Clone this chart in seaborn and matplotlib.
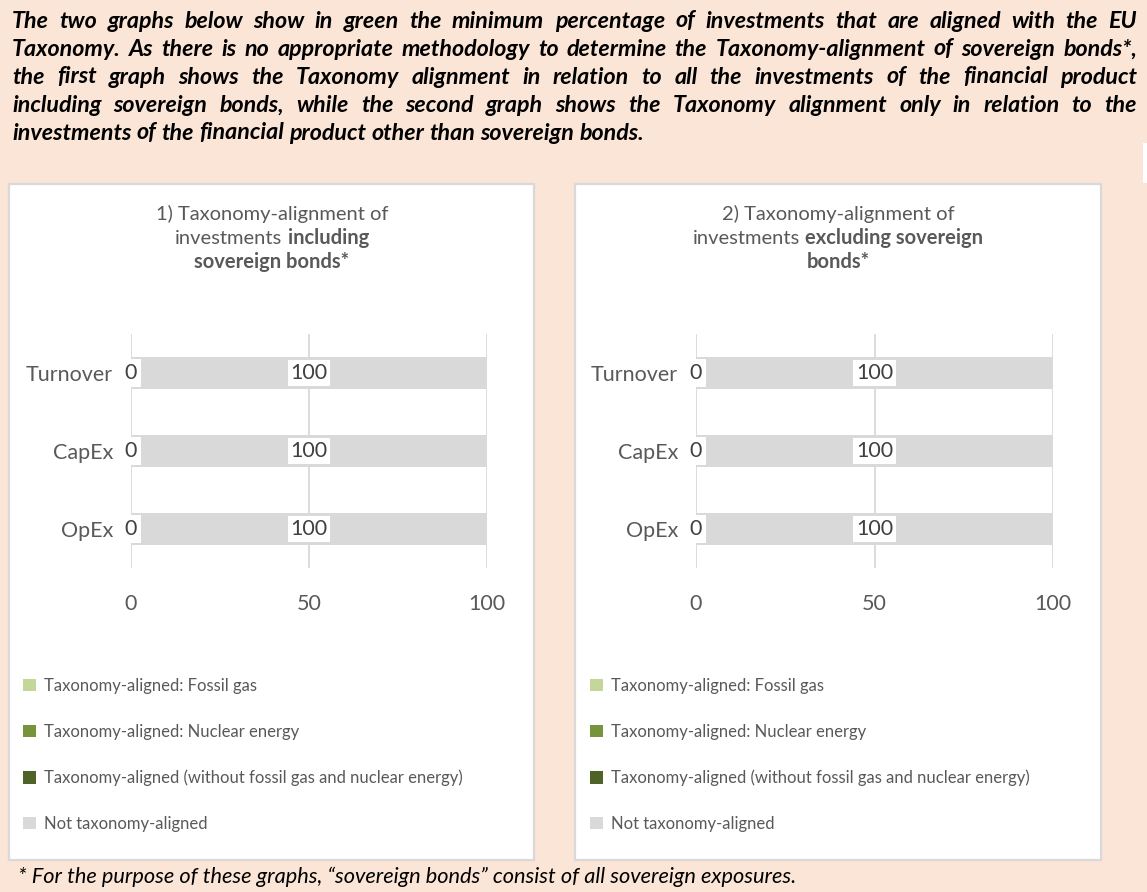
import matplotlib
matplotlib.use("Agg")
import matplotlib.pyplot as plt
from matplotlib.patches import Rectangle
import seaborn as sns
import numpy as np
import pandas as pd

# ---------------- data ----------------
categories = ["Turnover", "CapEx", "OpEx"]

incl_fossil_gas = [0, 0, 0]
incl_nuclear = [0, 0, 0]
incl_aligned_other = [0, 0, 0]
incl_not_aligned = [100, 100, 100]

excl_fossil_gas = [0, 0, 0]
excl_nuclear = [0, 0, 0]
excl_aligned_other = [0, 0, 0]
excl_not_aligned = [100, 100, 100]

x_ticks = [0, 50, 100]

series_labels = [
    "Taxonomy-aligned: Fossil gas",
    "Taxonomy-aligned: Nuclear energy",
    "Taxonomy-aligned (without fossil gas and nuclear energy)",
    "Not taxonomy-aligned",
]
series_colors = ["#C4D79B", "#77933C", "#4F6228", "#D9D9D9"]

title_1 = [[("1) Taxonomy-alignment of", "normal")],
           [("investments", "normal"), ("including", "bold")],
           [("sovereign bonds*", "bold")]]
title_2 = [[("2) Taxonomy-alignment of", "normal")],
           [("investments", "normal"), ("excluding sovereign", "bold")],
           [("bonds*", "bold")]]

intro_lines = [
    "The two graphs below show in green the minimum percentage of investments that are aligned with the EU",
    "Taxonomy. As there is no appropriate methodology to determine the Taxonomy-alignment of sovereign bonds*,",
    "the first graph shows the Taxonomy alignment in relation to all the investments of the financial product",
    "including sovereign bonds, while the second graph shows the Taxonomy alignment only in relation to the",
    "investments of the financial product other than sovereign bonds.",
]
footnote = "* For the purpose of these graphs, \u201csovereign bonds\u201d consist of all sovereign exposures."

# ---------------- style ----------------
sns.set_theme(style="white")
plt.rcParams["font.family"] = ["Lato", "DejaVu Sans"]

BG = "#FBE5D6"
PANEL_EDGE = "#D9D9D9"
TXT = "#595959"
W, H = 1147, 892

fig = plt.figure(figsize=(W / 100, H / 100), dpi=100)
fig.patch.set_facecolor(BG)
renderer = fig.canvas.get_renderer()


def fx(x):
    return x / W


def fy(y):
    return 1 - y / H


def text_width(s, **kw):
    t = fig.text(0, 0, s, **kw)
    w = t.get_window_extent(renderer).width
    t.remove()
    return w


# ---------------- intro paragraph (justified) ----------------
para_kw = dict(fontweight="bold", fontstyle="italic", color="black", va="center", ha="left")
base = 12
nat = text_width(intro_lines[-1], fontsize=base, **para_kw)
para_size = base * 630 / nat
para_kw["fontsize"] = para_size
space_w = text_width("a a", **para_kw) - text_width("aa", **para_kw)
x0, x1 = 12, 1137
para_ys = [21, 49, 77, 105, 133]
for i, (line, y) in enumerate(zip(intro_lines, para_ys)):
    words = line.split(" ")
    widths = [text_width(w, **para_kw) for w in words]
    last = i == len(intro_lines) - 1
    gap = space_w if last else (x1 - x0 - sum(widths)) / (len(words) - 1)
    x = x0
    for w, wd in zip(words, widths):
        fig.text(fx(x), fy(y), w, **para_kw)
        x += wd + gap

# ---------------- footnote ----------------
foot_kw = dict(fontstyle="italic", color="black", va="center", ha="left")
nat = text_width(footnote, fontsize=base, **foot_kw)
fig.text(fx(18), fy(877), footnote, fontsize=base * 775 / nat, **foot_kw)

# ---------------- panels ----------------
panels = [(9, 534), (575, 1101)]
for (l, r) in panels:
    fig.add_artist(Rectangle((fx(l), fy(860)), (r - l) / W, (860 - 184) / H,
                             transform=fig.transFigure, facecolor="white",
                             edgecolor=PANEL_EDGE, linewidth=1.6, zorder=-1))
fig.add_artist(Rectangle((fx(1143), fy(183)), 4 / W, 40 / H, transform=fig.transFigure,
                         facecolor="white", edgecolor="none", zorder=-1))


def draw_title(lines, cx, ys, size=14.5):
    for segs, y in zip(lines, ys):
        kw_list = [dict(fontsize=size, fontweight=wt, color=TXT, va="center", ha="left") for _, wt in segs]
        widths = [text_width(s, **k) for (s, _), k in zip(segs, kw_list)]
        sp = text_width("a a", **kw_list[0]) - text_width("aa", **kw_list[0])
        total = sum(widths) + sp * (len(segs) - 1)
        x = cx - total / 2
        for (s, _), k, wd in zip(segs, kw_list, widths):
            fig.text(fx(x), fy(y), s, **k)
            x += wd + sp


def draw_chart(ax, gas, nuc, other, notal, legend_x, legend_top):
    c1 = np.array(gas, dtype=float)
    c2 = c1 + np.array(nuc)
    c3 = c2 + np.array(other)
    c4 = c3 + np.array(notal)
    df = pd.DataFrame({"category": categories, "c1": c1, "c2": c2, "c3": c3, "c4": c4})
    for col, color, label in [("c4", series_colors[3], series_labels[3]),
                              ("c3", series_colors[2], series_labels[2]),
                              ("c2", series_colors[1], series_labels[1]),
                              ("c1", series_colors[0], series_labels[0])]:
        sns.barplot(data=df, x=col, y="category", orient="h", color=color, saturation=1,
                    width=0.41, errorbar=None, ax=ax, label=label, linewidth=0)
    ax.set_xlim(0, 100)
    ax.set_ylim(2.5, -0.5)
    ax.set_xticks(x_ticks)
    ax.set_xticklabels([str(t) for t in x_ticks])
    ax.xaxis.grid(True, color="#D9D9D9", linewidth=1.3)
    ax.yaxis.grid(False)
    ax.set_axisbelow(True)
    ax.set_facecolor("none")
    for s in ax.spines.values():
        s.set_visible(False)
    ax.set_xlabel("")
    ax.set_ylabel("")
    ax.tick_params(axis="x", length=0, labelsize=15.5, labelcolor=TXT, pad=19)
    ax.tick_params(axis="y", length=0, labelsize=15.5, labelcolor=TXT, pad=13)
    for i in range(len(categories)):
        ax.text((c2[i] + c3[i]) / 2, i, f"{other[i]:g}", ha="center", va="center",
                fontsize=15.5, color="#404040", zorder=5,
                bbox=dict(boxstyle="square,pad=0.2", facecolor="white", edgecolor="none"))
        ax.text((c3[i] + c4[i]) / 2, i, f"{notal[i]:g}", ha="center", va="center",
                fontsize=15.5, color="#404040", zorder=5,
                bbox=dict(boxstyle="square,pad=0.12", facecolor="white", edgecolor="none"))
    h, l = ax.get_legend_handles_labels()
    hd = dict(zip(l, h))
    ax.legend([hd[s] for s in series_labels], series_labels, loc="upper left",
              bbox_to_anchor=(fx(legend_x), fy(legend_top)), bbox_transform=fig.transFigure,
              frameon=False, fontsize=12, labelcolor=TXT, handlelength=0.75, handleheight=0.75,
              handletextpad=0.5, labelspacing=1.79, borderpad=0, borderaxespad=0)


ax1 = fig.add_axes([fx(131), fy(568), (487 - 131) / W, (568 - 334) / H])
ax2 = fig.add_axes([fx(696), fy(568), (1053 - 696) / W, (568 - 334) / H])

draw_chart(ax1, incl_fossil_gas, incl_nuclear, incl_aligned_other, incl_not_aligned, 23, 678)
draw_chart(ax2, excl_fossil_gas, excl_nuclear, excl_aligned_other, excl_not_aligned, 590, 678)

draw_title(title_1, 272, [214, 238, 262])
draw_title(title_2, 838, [214, 238, 262])

fig.savefig("out.png", dpi=100, facecolor=BG)
